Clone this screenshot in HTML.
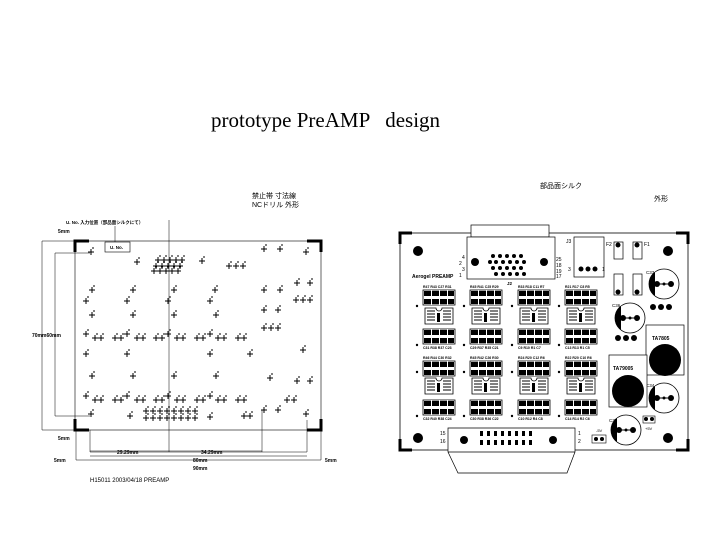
<!DOCTYPE html>
<html><head><meta charset="utf-8"><style>
html,body{margin:0;padding:0;background:#fff;}
body{width:720px;height:540px;overflow:hidden;position:relative;}
.t{position:absolute;left:211px;top:108px;font-family:"Liberation Serif",serif;font-size:21px;white-space:pre;}
svg{position:absolute;left:0;top:0;}
text{font-family:"Liberation Sans","Noto Sans CJK JP",sans-serif;}
</style></head><body>
<div class="t">prototype PreAMP   design</div>
<svg width="720" height="540" viewBox="0 0 720 540">
<defs>
<g id="x"><path d="M-3 0H3M0-3V3M1-4h2" stroke="#000" stroke-width="1" fill="none"/></g>
<g id="bank"><rect x="0" y="0" width="32" height="15" fill="#fff" stroke="#000" stroke-width=".8"/>
<rect x="1" y="1" width="7" height="5"/><rect x="9" y="1" width="7" height="5"/><rect x="17" y="1" width="7" height="5"/><rect x="25" y="1" width="6" height="5"/>
<rect x="1" y="9" width="7" height="5"/><rect x="9" y="9" width="7" height="5"/><rect x="17" y="9" width="7" height="5"/><rect x="25" y="9" width="6" height="5"/>
<path d="M8.5 0V15M16.5 0V15M24.5 0V15" stroke="#fff" stroke-width="1"/></g>
<g id="ic"><path d="M2 0H13A3 3 0 0 0 19 0H30V16H2Z" fill="#fff" stroke="#000" stroke-width=".8"/>
<path d="M4 3h8M4 6h8M4 9h8M4 12h8M20 3h8M20 6h8M20 9h8M20 12h8" stroke="#000" stroke-width="1"/>
<rect x="14" y="5" width="3" height="9"/></g>
<g id="cap"><circle r="15" fill="#fff" stroke="#000" stroke-width=".8"/><path d="M-9-12A15 15 0 0 0-9 12Z" fill="#000"/><path d="M-8 0H8" stroke="#000"/><circle cx="-7" r="3"/><circle cx="7" r="3"/><circle r="1.5"/></g>
</defs>

<!-- LEFT DRAWING -->
<text x="252" y="198" font-size="7">禁止帯 寸法線</text>
<text x="252" y="207" font-size="7">NCドリル 外形</text>
<text x="66" y="224" font-size="4.5" font-weight="bold">U. No. 入力位置（部品面シルクにて）</text>
<path d="M115 226V242" stroke="#000" stroke-width=".5"/>
<rect x="105" y="242" width="25" height="10" fill="none" stroke="#000" stroke-width=".6"/>
<text x="110" y="249" font-size="4.5" font-weight="bold">U. No.</text>
<rect x="75" y="241" width="246" height="189" fill="none" stroke="#000" stroke-width=".6"/>
<path d="M75 252V241H89M307 241H321V252M75 419V430H89M307 430H321V419" stroke="#000" stroke-width="3" fill="none"/>
<path d="M169 220V430" stroke="#000" stroke-width=".5"/>
<path d="M42 241H75M42 430H75M55 253H90M55 416H90M42 241V430M55 253V416" stroke="#000" stroke-width=".5"/>
<text x="58" y="233" font-size="5" font-weight="bold">5mm</text>
<text x="58" y="440" font-size="5" font-weight="bold">5mm</text>
<text x="32" y="337" font-size="5" font-weight="bold">70mm60mm</text>
<path d="M76 430V460M90 430V452M169 430V452M262 410V452M307 420V452M321 430V460M90 451H262M90 452H307M76 460H321M90 456H307" stroke="#000" stroke-width=".5"/>
<text x="117" y="454" font-size="5" font-weight="bold">29.29mm</text>
<text x="201" y="454" font-size="5" font-weight="bold">34.29mm</text>
<text x="193" y="462" font-size="5" font-weight="bold">80mm</text>
<text x="193" y="470" font-size="5" font-weight="bold">90mm</text>
<text x="54" y="462" font-size="5" font-weight="bold">5mm</text>
<text x="325" y="462" font-size="5" font-weight="bold">5mm</text>
<text x="90" y="482" font-size="6" font-family="Liberation Mono">H15011  2003/04/18 PREAMP</text>
<g>
<use href="#x" x="91" y="252"/><use href="#x" x="137" y="262"/><use href="#x" x="202" y="261"/><use href="#x" x="264" y="249"/><use href="#x" x="280" y="249"/><use href="#x" x="306" y="252"/>
<use href="#x" x="158" y="260"/><use href="#x" x="164" y="260"/><use href="#x" x="170" y="260"/><use href="#x" x="176" y="260"/><use href="#x" x="182" y="260"/>
<use href="#x" x="156" y="266"/><use href="#x" x="162" y="266"/><use href="#x" x="168" y="266"/><use href="#x" x="174" y="266"/><use href="#x" x="180" y="266"/>
<use href="#x" x="154" y="271"/><use href="#x" x="160" y="271"/><use href="#x" x="166" y="271"/><use href="#x" x="172" y="271"/><use href="#x" x="178" y="271"/>
<use href="#x" x="229" y="266"/><use href="#x" x="236" y="266"/><use href="#x" x="243" y="266"/>
<use href="#x" x="297" y="283"/><use href="#x" x="310" y="283"/><use href="#x" x="296" y="300"/><use href="#x" x="303" y="300"/><use href="#x" x="310" y="300"/>
<use href="#x" x="92" y="290"/><use href="#x" x="133" y="290"/><use href="#x" x="174" y="290"/><use href="#x" x="215" y="290"/><use href="#x" x="264" y="290"/><use href="#x" x="280" y="290"/>
<use href="#x" x="86" y="301"/><use href="#x" x="127" y="301"/><use href="#x" x="168" y="301"/><use href="#x" x="210" y="301"/><use href="#x" x="264" y="310"/><use href="#x" x="278" y="310"/>
<use href="#x" x="92" y="315"/><use href="#x" x="133" y="315"/><use href="#x" x="174" y="315"/><use href="#x" x="216" y="315"/>
<use href="#x" x="264" y="328"/><use href="#x" x="271" y="328"/><use href="#x" x="278" y="328"/>
<use href="#x" x="86" y="334"/><use href="#x" x="95" y="338"/><use href="#x" x="101" y="338"/><use href="#x" x="115" y="338"/><use href="#x" x="121" y="338"/><use href="#x" x="127" y="334"/><use href="#x" x="137" y="338"/><use href="#x" x="143" y="338"/><use href="#x" x="156" y="338"/><use href="#x" x="162" y="338"/><use href="#x" x="168" y="334"/><use href="#x" x="177" y="338"/><use href="#x" x="183" y="338"/><use href="#x" x="197" y="338"/><use href="#x" x="203" y="338"/><use href="#x" x="210" y="334"/><use href="#x" x="218" y="338"/><use href="#x" x="224" y="338"/><use href="#x" x="238" y="338"/><use href="#x" x="244" y="338"/>
<use href="#x" x="86" y="354"/><use href="#x" x="127" y="354"/><use href="#x" x="210" y="354"/><use href="#x" x="250" y="354"/><use href="#x" x="303" y="350"/>
<use href="#x" x="92" y="376"/><use href="#x" x="133" y="376"/><use href="#x" x="174" y="376"/><use href="#x" x="216" y="376"/><use href="#x" x="270" y="378"/><use href="#x" x="297" y="381"/><use href="#x" x="310" y="381"/>
<use href="#x" x="86" y="396"/><use href="#x" x="95" y="400"/><use href="#x" x="101" y="400"/><use href="#x" x="115" y="400"/><use href="#x" x="121" y="400"/><use href="#x" x="127" y="396"/><use href="#x" x="137" y="400"/><use href="#x" x="143" y="400"/><use href="#x" x="156" y="400"/><use href="#x" x="162" y="400"/><use href="#x" x="168" y="396"/><use href="#x" x="177" y="400"/><use href="#x" x="183" y="400"/><use href="#x" x="197" y="400"/><use href="#x" x="203" y="400"/><use href="#x" x="210" y="396"/><use href="#x" x="218" y="400"/><use href="#x" x="224" y="400"/><use href="#x" x="238" y="400"/><use href="#x" x="244" y="400"/><use href="#x" x="287" y="400"/><use href="#x" x="294" y="400"/>
<use href="#x" x="91" y="414"/><use href="#x" x="130" y="416"/><use href="#x" x="210" y="417"/><use href="#x" x="244" y="416"/><use href="#x" x="250" y="416"/><use href="#x" x="264" y="410"/><use href="#x" x="278" y="410"/><use href="#x" x="306" y="414"/>
<use href="#x" x="146" y="411"/><use href="#x" x="153" y="411"/><use href="#x" x="160" y="411"/><use href="#x" x="167" y="411"/><use href="#x" x="174" y="411"/><use href="#x" x="181" y="411"/><use href="#x" x="188" y="411"/><use href="#x" x="195" y="411"/>
<use href="#x" x="146" y="418"/><use href="#x" x="153" y="418"/><use href="#x" x="160" y="418"/><use href="#x" x="167" y="418"/><use href="#x" x="174" y="418"/><use href="#x" x="181" y="418"/><use href="#x" x="188" y="418"/><use href="#x" x="195" y="418"/>
</g>

<!-- RIGHT BOARD -->
<text x="540" y="188" font-size="7">部品面シルク</text>
<text x="654" y="201" font-size="7">外形</text>
<rect x="400" y="233" width="288" height="217" fill="none" stroke="#000" stroke-width=".8"/>
<path d="M400 244V233H412M676 233H688V244M400 439V450H412M676 450H688V439" stroke="#000" stroke-width="3" fill="none"/>
<circle cx="418" cy="251" r="5"/><circle cx="668" cy="251" r="5"/><circle cx="418" cy="438" r="5"/><circle cx="668" cy="438" r="5"/>
<rect x="471" y="225" width="78" height="12" fill="#fff" stroke="#000" stroke-width=".7"/>
<rect x="467" y="237" width="88" height="42" fill="#fff" stroke="#000" stroke-width=".7"/>
<circle cx="475" cy="262" r="4"/><circle cx="544" cy="262" r="4"/>
<g fill="#000"><circle cx="493" cy="256" r="2"/><circle cx="500" cy="256" r="2"/><circle cx="507" cy="256" r="2"/><circle cx="514" cy="256" r="2"/><circle cx="521" cy="256" r="2"/>
<circle cx="496" cy="262" r="2"/><circle cx="503" cy="262" r="2"/><circle cx="510" cy="262" r="2"/><circle cx="517" cy="262" r="2"/><circle cx="524" cy="262" r="2"/><circle cx="490" cy="262" r="2"/>
<circle cx="493" cy="268" r="2"/><circle cx="500" cy="268" r="2"/><circle cx="507" cy="268" r="2"/><circle cx="514" cy="268" r="2"/><circle cx="521" cy="268" r="2"/>
<circle cx="496" cy="274" r="2"/><circle cx="503" cy="274" r="2"/><circle cx="510" cy="274" r="2"/><circle cx="517" cy="274" r="2"/><circle cx="524" cy="274" r="2"/></g>
<text x="462" y="259" font-size="5">4</text><text x="459" y="265" font-size="5">2</text><text x="462" y="271" font-size="5">3</text><text x="459" y="277" font-size="5">1</text>
<text x="556" y="261" font-size="5">25</text><text x="556" y="267" font-size="5">18</text><text x="556" y="273" font-size="5">19</text><text x="556" y="278" font-size="5">17</text>
<text x="507" y="285" font-size="4.5" font-weight="bold">J2</text>
<text x="412" y="278" font-size="5" font-weight="bold">Aerogel  PREAMP</text>
<rect x="574" y="237" width="30" height="40" fill="#fff" stroke="#000" stroke-width=".7"/>
<circle cx="581" cy="269" r="2.5"/><circle cx="588" cy="269" r="2.5"/><circle cx="595" cy="269" r="2.5"/>
<text x="566" y="243" font-size="5">J3</text><text x="568" y="271" font-size="5">3</text><text x="602" y="271" font-size="5">1</text>
<rect x="614" y="242" width="9" height="17" fill="none" stroke="#000" stroke-width=".7"/><rect x="633" y="242" width="9" height="17" fill="none" stroke="#000" stroke-width=".7"/>
<rect x="614" y="274" width="9" height="21" fill="none" stroke="#000" stroke-width=".7"/><rect x="633" y="274" width="9" height="21" fill="none" stroke="#000" stroke-width=".7"/>
<circle cx="618" cy="245" r="2.5"/><circle cx="637" cy="245" r="2.5"/><circle cx="618" cy="292" r="2.5"/><circle cx="637" cy="292" r="2.5"/>
<text x="606" y="246" font-size="5">F2</text><text x="644" y="246" font-size="5">F1</text>
<use href="#cap" x="664" y="284"/><text x="646" y="274" font-size="4.5">C33</text>
<use href="#cap" x="630" y="318"/><text x="612" y="307" font-size="4.5">C36</text>
<use href="#cap" x="664" y="398"/><text x="646" y="387" font-size="4.5">C34</text>
<use href="#cap" x="626" y="430"/><text x="609" y="422" font-size="4.5">C37</text>
<circle cx="653" cy="307" r="3"/><circle cx="661" cy="307" r="3"/><circle cx="669" cy="307" r="3"/>
<circle cx="618" cy="338" r="3"/><circle cx="626" cy="338" r="3"/><circle cx="634" cy="338" r="3"/>
<rect x="646" y="325" width="38" height="50" fill="#fff" stroke="#000" stroke-width=".7"/>
<text x="652" y="340" font-size="5" font-weight="bold">TA7805</text>
<circle cx="665" cy="360" r="16"/>
<rect x="609" y="355" width="38" height="52" fill="#fff" stroke="#000" stroke-width=".7"/>
<text x="613" y="370" font-size="5" font-weight="bold">TA79005</text>
<circle cx="628" cy="391" r="16"/>
<rect x="643" y="416" width="12" height="7" fill="none" stroke="#000" stroke-width=".6"/><circle cx="646" cy="419" r="2"/><circle cx="652" cy="419" r="2"/>
<rect x="592" y="435" width="14" height="8" fill="none" stroke="#000" stroke-width=".6"/><circle cx="596" cy="439" r="2"/><circle cx="602" cy="439" r="2"/>
<text x="596" y="432" font-size="4">-5V</text><text x="645" y="430" font-size="4">+5V</text>
<g>
<use href="#bank" x="423" y="290"/><use href="#bank" x="470" y="290"/><use href="#bank" x="518" y="290"/><use href="#bank" x="565" y="290"/>
<use href="#ic" x="423" y="308"/><use href="#ic" x="470" y="308"/><use href="#ic" x="518" y="308"/><use href="#ic" x="565" y="308"/>
<use href="#bank" x="423" y="329"/><use href="#bank" x="470" y="329"/><use href="#bank" x="518" y="329"/><use href="#bank" x="565" y="329"/>
<use href="#bank" x="423" y="361"/><use href="#bank" x="470" y="361"/><use href="#bank" x="518" y="361"/><use href="#bank" x="565" y="361"/>
<use href="#ic" x="423" y="378"/><use href="#ic" x="470" y="378"/><use href="#ic" x="518" y="378"/><use href="#ic" x="565" y="378"/>
<use href="#bank" x="423" y="400"/><use href="#bank" x="470" y="400"/><use href="#bank" x="518" y="400"/><use href="#bank" x="565" y="400"/>
</g>
<g font-size="3.5" font-weight="bold">
<text x="423" y="288">R47 R43 C27 R31</text><text x="470" y="288">R45 R41 C25 R29</text><text x="518" y="288">R33 R18 C11 R7</text><text x="565" y="288">R21 R17 C8  R5</text>
<text x="423" y="349">C31 R38 R37 C23</text><text x="470" y="349">C29 R37 R35 C21</text><text x="518" y="349">C9 R10 R1 C7</text><text x="565" y="349">C13 R13 R1 C5</text>
<text x="423" y="359">R46 R44 C30 R32</text><text x="470" y="359">R45 R42 C26 R30</text><text x="518" y="359">R24 R20 C12 R6</text><text x="565" y="359">R22 R20 C10 R6</text>
<text x="423" y="420">C32 R40 R38 C24</text><text x="470" y="420">C30 R38 R36 C22</text><text x="518" y="420">C10 R12 R4 C8</text><text x="565" y="420">C14 R14 R2 C6</text>
</g>
<g fill="#000"><circle cx="417" cy="306" r="1.2"/><circle cx="417" cy="345" r="1.2"/><circle cx="417" cy="372" r="1.2"/><circle cx="417" cy="416" r="1.2"/>
<circle cx="464" cy="306" r="1.2"/><circle cx="464" cy="345" r="1.2"/><circle cx="464" cy="372" r="1.2"/><circle cx="464" cy="416" r="1.2"/>
<circle cx="512" cy="306" r="1.2"/><circle cx="512" cy="345" r="1.2"/><circle cx="512" cy="372" r="1.2"/><circle cx="512" cy="416" r="1.2"/>
<circle cx="559" cy="306" r="1.2"/><circle cx="559" cy="345" r="1.2"/><circle cx="559" cy="372" r="1.2"/><circle cx="559" cy="416" r="1.2"/></g>
<path d="M448 428H575V452H448Z M448 452L458 473H567L575 452" fill="#fff" stroke="#000" stroke-width=".7"/>
<circle cx="464" cy="440" r="4"/><circle cx="553" cy="440" r="4"/>
<g fill="#000"><rect x="480" y="431" width="3" height="5"/><rect x="487" y="431" width="3" height="5"/><rect x="494" y="431" width="3" height="5"/><rect x="501" y="431" width="3" height="5"/><rect x="508" y="431" width="3" height="5"/><rect x="515" y="431" width="3" height="5"/><rect x="522" y="431" width="3" height="5"/><rect x="529" y="431" width="3" height="5"/>
<rect x="480" y="440" width="3" height="5"/><rect x="487" y="440" width="3" height="5"/><rect x="494" y="440" width="3" height="5"/><rect x="501" y="440" width="3" height="5"/><rect x="508" y="440" width="3" height="5"/><rect x="515" y="440" width="3" height="5"/><rect x="522" y="440" width="3" height="5"/><rect x="529" y="440" width="3" height="5"/></g>
<text x="440" y="435" font-size="5">15</text><text x="440" y="443" font-size="5">16</text><text x="578" y="435" font-size="5">1</text><text x="578" y="443" font-size="5">2</text>
</svg>
</body></html>
